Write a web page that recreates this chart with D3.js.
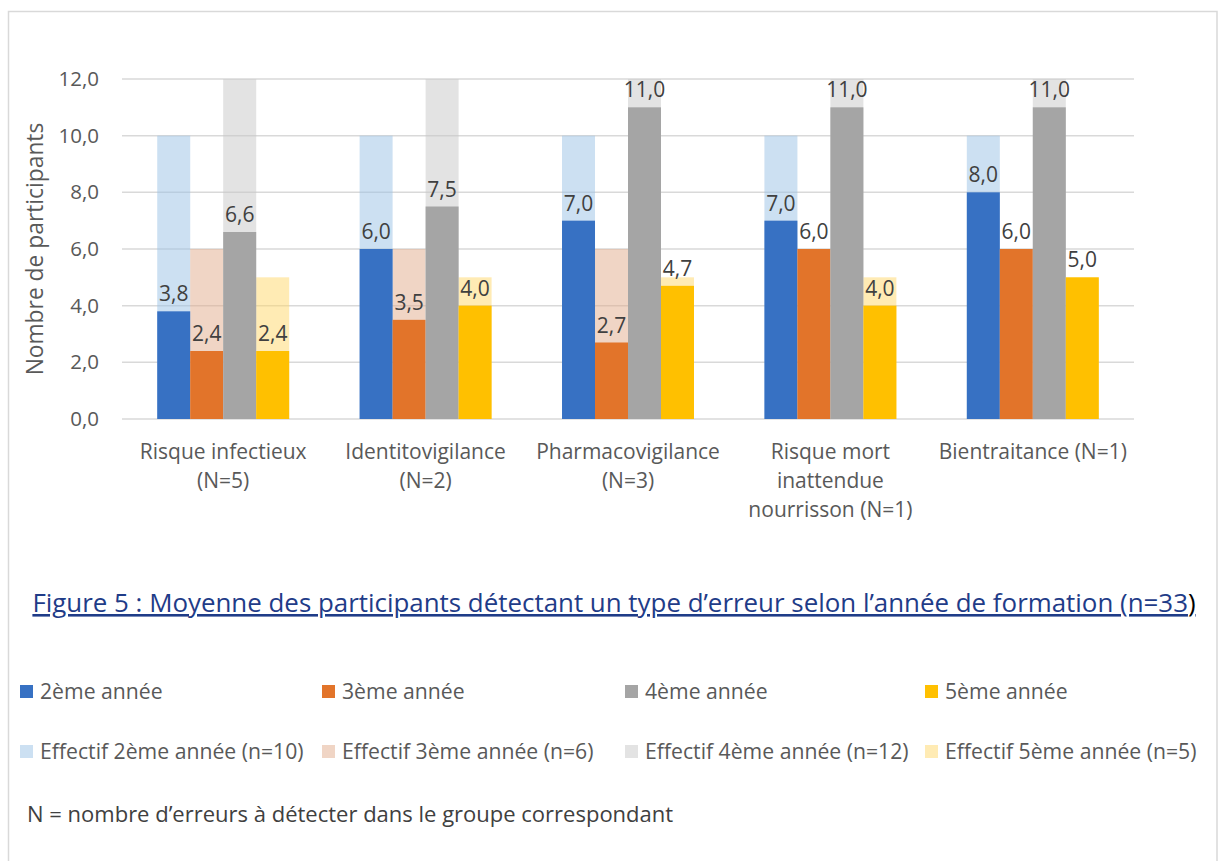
<!DOCTYPE html>
<html>
<head>
<meta charset="utf-8">
<script src="https://cdn.jsdelivr.net/npm/d3@7"></script>
<style>
  body { margin: 0; background: #fff; }
  text { font-family: "Open Sans", "Noto Sans", sans-serif; }
</style>
</head>
<body>
<div id="chart"></div>
<script>
// categories (line breaks as in the original axis)
const categories = [
  "Risque infectieux\n(N=5)",
  "Identitovigilance\n(N=2)",
  "Pharmacovigilance\n(N=3)",
  "Risque mort\ninattendue\nnourrisson (N=1)",
  "Bientraitance (N=1)"
];
const seriesNames = ["2ème année", "3ème année", "4ème année", "5ème année"];
const effectifNames = [
  "Effectif 2ème année (n=10)",
  "Effectif 3ème année (n=6)",
  "Effectif 4ème année (n=12)",
  "Effectif 5ème année (n=5)"
];
const effectifs = [10, 6, 12, 5];
const annee2 = [3.8, 6.0, 7.0, 7.0, 8.0];
const annee3 = [2.4, 3.5, 2.7, 6.0, 6.0];
const annee4 = [6.6, 7.5, 11.0, 11.0, 11.0];
const annee5 = [2.4, 4.0, 4.7, 4.0, 5.0];
const yTicks = [0, 2, 4, 6, 8, 10, 12];

const titleText = "Figure 5 : Moyenne des participants détectant un type d’erreur selon l’année de formation (n=33";
const noteText = "N = nombre d’erreurs à détecter dans le groupe correspondant";

const colors = ["#3771C3", "#E2742A", "#A5A5A5", "#FFC000"];
const lightColors = ["#99C1E5", "#E1AB8B", "#C7C7C7", "#FFD769"];

const width = 1221, height = 861;
const margin = {top: 79, left: 122, right: 87, bottom: 442};

const svg = d3.select("#chart").append("svg")
  .attr("width", width)
  .attr("height", height);

// outer frame
svg.append("rect")
  .attr("x", 8.5).attr("y", 11.5)
  .attr("width", 1208.5).attr("height", 900)
  .attr("fill", "none")
  .attr("stroke", "#d9d9d9")
  .attr("stroke-width", 1.5);

const fr = d3.formatLocale({decimal: ",", thousands: " ", grouping: [3], currency: ["", "€"]});
const fmt = fr.format(".1f");

const x0 = d3.scaleBand()
  .domain(categories)
  .range([margin.left, width - margin.right])
  .paddingInner(0.348)
  .paddingOuter(0.174);

const x1 = d3.scaleBand()
  .domain(d3.range(4))
  .range([0, x0.bandwidth()]);

const y = d3.scaleLinear()
  .domain([0, 12])
  .range([height - margin.bottom, margin.top]);

// gridlines
svg.append("g")
  .selectAll("line")
  .data(yTicks)
  .enter()
  .append("line")
  .attr("x1", margin.left)
  .attr("x2", width - margin.right)
  .attr("y1", d => y(d))
  .attr("y2", d => y(d))
  .attr("stroke", "#d9d9d9")
  .attr("stroke-width", 1.5);

// y axis labels
const yAxis = svg.append("g")
  .attr("transform", `translate(${margin.left},0)`)
  .call(d3.axisLeft(y).tickValues(yTicks).tickFormat(fmt).tickSize(0).tickPadding(23));
yAxis.select(".domain").remove();
yAxis.selectAll("text")
  .style("font-size", "20.5px")
  .style("font-family", "'Open Sans', sans-serif")
  .attr("fill", "#595959");

// y axis title
svg.append("text")
  .attr("transform", `translate(43,${(y(0) + y(12)) / 2}) rotate(-90)`)
  .attr("text-anchor", "middle")
  .style("font-size", "22.8px")
  .attr("fill", "#595959")
  .text("Nombre de participants");

const seriesValues = [annee2, annee3, annee4, annee5];

// background "effectif" bars, then the means in front
categories.forEach((c, ci) => {
  const g = svg.append("g");
  g.selectAll("rect.bg")
    .data(effectifs)
    .enter()
    .append("rect")
    .attr("class", "bg")
    .attr("x", (d, i) => x0(c) + x1(i))
    .attr("width", x1.bandwidth())
    .attr("y", d => y(d))
    .attr("height", d => y(0) - y(d))
    .attr("fill", (d, i) => lightColors[i])
    .attr("fill-opacity", 0.5);

  const vals = seriesValues.map(s => s[ci]);
  g.selectAll("rect.fg")
    .data(vals)
    .enter()
    .append("rect")
    .attr("class", "fg")
    .attr("x", (d, i) => x0(c) + x1(i))
    .attr("width", x1.bandwidth())
    .attr("y", d => y(d))
    .attr("height", d => y(0) - y(d))
    .attr("fill", (d, i) => colors[i]);

  g.selectAll("text.lbl")
    .data(vals)
    .enter()
    .append("text")
    .attr("class", "lbl")
    .attr("x", (d, i) => x0(c) + x1(i) + x1.bandwidth() / 2)
    .attr("y", d => y(d) - 10)
    .attr("text-anchor", "middle")
    .style("font-size", "21px")
    .attr("fill", "#404040")
    .text(d => fmt(d));
});

// category labels
const xAxis = svg.append("g")
  .attr("transform", `translate(0,${y(0)})`)
  .call(d3.axisBottom(x0).tickSize(0).tickPadding(0));
xAxis.select(".domain").remove();
xAxis.selectAll("text")
  .style("font-size", "21px")
  .style("font-family", "'Open Sans', sans-serif")
  .attr("fill", "#595959")
  .attr("dy", null)
  .each(function (d) {
    const self = d3.select(this);
    const parts = d.split("\n");
    self.text("");
    parts.forEach((p, i) => {
      self.append("tspan")
        .attr("x", 0)
        .attr("y", 40 + i * 29)
        .text(p);
    });
  });

// title
const title = svg.append("text")
  .attr("x", 614)
  .attr("y", 612)
  .attr("text-anchor", "middle")
  .style("font-size", "25.9px")
  .style("text-decoration", "underline")
  .attr("fill", "#1F3C88");
title.append("tspan").text(titleText);
title.append("tspan").attr("fill", "#000").text(")");

// legend
const legendX = [20, 322, 625, 925];
const legendItems = seriesNames.map((n, i) => ({name: n, color: colors[i], op: 1, row: 0, col: i}))
  .concat(effectifNames.map((n, i) => ({name: n, color: lightColors[i], op: 0.5, row: 1, col: i})));

const lg = svg.append("g").selectAll("g")
  .data(legendItems)
  .enter()
  .append("g")
  .attr("transform", d => `translate(${legendX[d.col]},${692 + d.row * 60})`);
lg.append("rect")
  .attr("x", 0).attr("y", -7)
  .attr("width", 13).attr("height", 13)
  .attr("fill", d => d.color)
  .attr("fill-opacity", d => d.op);
lg.append("text")
  .attr("x", 20)
  .attr("y", 7)
  .style("font-size", "21.2px")
  .attr("fill", "#595959")
  .text(d => d.name);

// note
svg.append("text")
  .attr("x", 27)
  .attr("y", 822)
  .style("font-size", "22px")
  .attr("fill", "#404040")
  .text(noteText);
</script>
</body>
</html>
